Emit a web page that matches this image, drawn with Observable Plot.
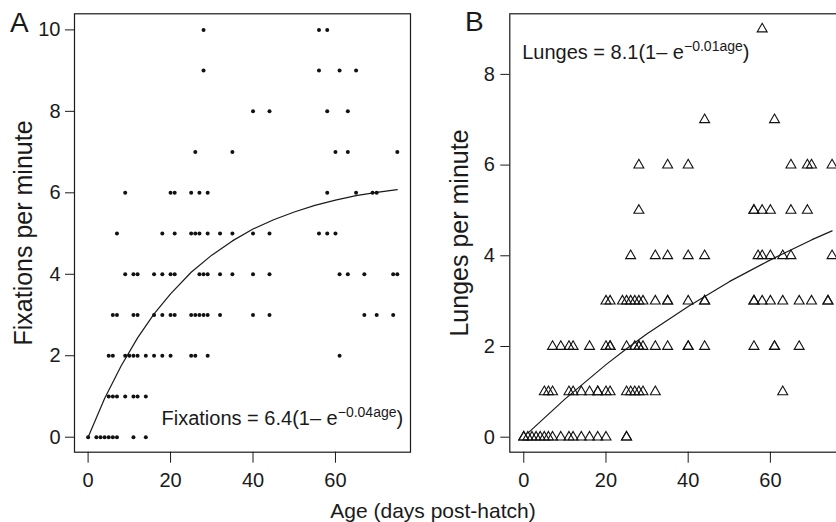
<!DOCTYPE html>
<html>
<head>
<meta charset="utf-8">
<script src="https://cdn.jsdelivr.net/npm/d3@7"></script>
<script src="https://cdn.jsdelivr.net/npm/@observablehq/plot@0.6"></script>
<style>
html,body{margin:0;padding:0;background:#fff;overflow:hidden;width:836px;height:522px;}
#wrap{position:relative;width:836px;height:522px;font-family:"Liberation Sans",Arial,Helvetica,sans-serif;color:#1a1a1a;}
#panelA{position:absolute;left:0;top:0;width:420px;height:522px;}
#panelB{position:absolute;left:420px;top:0;width:430px;height:522px;}
#xtitle{position:absolute;left:0;top:500px;width:866px;text-align:center;font-size:21px;line-height:21px;}
</style>
</head>
<body>
<div id="wrap"><div id="panelA"></div><div id="panelB"></div><div id="xtitle"></div></div>
<script>
// ---------- data ----------
const xTicks = [0, 20, 40, 60];
const yTicksA = [0, 2, 4, 6, 8, 10];
const yTicksB = [0, 2, 4, 6, 8];

// Panel A: fixations per minute (level) and the ages (days) of the dots on that level
const fixLevels = [0, 1, 2, 3, 4, 5, 6, 7, 8, 9, 10];
const fixAgesAt = [
  [0, 2, 3, 4, 5, 6, 7, 11, 14],
  [5, 6, 7, 9, 11, 12, 14],
  [5, 6, 9, 10, 11, 12, 14, 16, 18, 20, 25, 26, 29, 61],
  [6, 7, 11, 12, 16, 18, 20, 21, 25, 26, 27, 28, 29, 32, 40, 44, 67, 70, 74],
  [9, 11, 12, 16, 18, 20, 21, 27, 28, 29, 32, 35, 40, 44, 61, 63, 67, 74, 75],
  [7, 18, 21, 25, 26, 27, 29, 32, 35, 40, 44, 56, 58, 60],
  [9, 20, 21, 25, 27, 29, 58, 65, 69, 70],
  [26, 35, 60, 63, 75],
  [40, 44, 58, 63],
  [28, 56, 61, 65],
  [28, 56, 58]
];

// Panel B: lunges per minute (level) and the ages of the triangles on that level
const lungeLevels = [0, 1, 2, 3, 4, 5, 6, 7, 9];
const lungeAgesAt = [
  [0, 0, 1, 2, 3, 4, 5, 6, 7, 9, 11, 12, 14, 16, 18, 20, 25, 25],
  [5, 6, 7, 11, 12, 14, 16, 18, 18, 20, 21, 25, 26, 27, 28, 29, 32, 63],
  [7, 9, 11, 12, 16, 20, 21, 21, 25, 27, 28, 28, 29, 32, 35, 40, 40, 44, 56, 61, 61, 67],
  [20, 21, 24, 25, 26, 27, 28, 29, 32, 35, 35, 40, 44, 44, 56, 56, 58, 60, 63, 67, 70, 74, 74],
  [26, 32, 35, 40, 44, 57, 58, 60, 63, 65, 75],
  [28, 56, 56, 58, 60, 65, 69],
  [28, 35, 40, 65, 69, 70, 75],
  [44, 61],
  [58]
];

// Fitted curves
const fitAgeA = [0, 4, 8, 12, 16, 20, 25, 30, 35, 40, 45, 50, 55, 60, 65, 70, 75];
const fitFixA = [0, 0.95, 1.75, 2.44, 3.03, 3.52, 4.05, 4.47, 4.82, 5.11, 5.34, 5.53, 5.69, 5.82, 5.93, 6.01, 6.08];
const fitAgeB = [1, 10, 20, 25, 30, 40, 50, 60, 70, 75];
const fitLungeB = [0.09, 0.84, 1.6, 1.95, 2.28, 2.88, 3.43, 3.91, 4.35, 4.55];

// Texts
const panelLetters = ["A", "B"];
const yTitles = ["Fixations per minute", "Lunges per minute"];
const xTitle = "Age (days post-hatch)";
const eqA = ["Fixations = 6.4(1\u2013 e", "\u22120.04age", ")"];
const eqB = ["Lunges = 8.1(1\u2013 e", "\u22120.01age", ")"];

// ---------- build ----------
const FONT = '"Liberation Sans", Arial, Helvetica, sans-serif';
const INK = "#1a1a1a";
const fixData = fixLevels.flatMap((v, i) => fixAgesAt[i].map(a => ({age: a, rate: v})));
const lungeData = lungeLevels.flatMap((v, i) => lungeAgesAt[i].map(a => ({age: a, rate: v})));
const curveA = fitAgeA.map((a, i) => ({age: a, v: fitFixA[i]}));
const curveB = fitAgeB.map((a, i) => ({age: a, v: fitLungeB[i]}));

const baseStyle = {fontFamily: FONT, fontSize: "20px", color: INK, background: "transparent", overflow: "visible", maxWidth: "none"};

function superscriptify(svg, parts) {
  const full = parts.join("");
  d3.select(svg).selectAll("text").filter(function () { return this.textContent === full; }).each(function () {
    const t = d3.select(this);
    t.text(null);
    t.append("tspan").text(parts[0]);
    t.append("tspan").attr("dy", -7.5).attr("font-size", 14).text(parts[1]);
    t.append("tspan").attr("dy", 7.5).text(parts[2]);
  });
}

const A = Plot.plot({
  width: 420, height: 522,
  marginLeft: 74, marginRight: 10, marginTop: 13.3, marginBottom: 70.3,
  style: baseStyle,
  x: {domain: [-3.3, 78.2]},
  y: {domain: [-0.368, 10.395]},
  marks: [
    Plot.frame({stroke: INK, strokeWidth: 1.2}),
    Plot.axisX({ticks: xTicks, tickSize: 11, tickPadding: 10, label: null, fontSize: 20}),
    Plot.axisY({ticks: yTicksA, tickSize: 9, tickPadding: 5, label: null, fontSize: 20}),
    Plot.line(curveA, {x: "age", y: "v", stroke: INK, strokeWidth: 1.2}),
    Plot.dot(fixData, {x: "age", y: "rate", r: 2, fill: "#111"}),
    Plot.text([yTitles[0]], {frameAnchor: "left", rotate: -90, dx: -42.5, textAnchor: "middle", lineAnchor: "bottom", fontSize: 25, fill: INK}),
    Plot.text([panelLetters[0]], {frameAnchor: "top-left", dx: -64.5, dy: 17.7, textAnchor: "start", lineAnchor: "bottom", fontSize: 28, fill: INK}),
    Plot.text([eqA.join("")], {frameAnchor: "bottom-left", dx: 87, dy: -27.7, textAnchor: "start", lineAnchor: "bottom", fontSize: 20, fill: INK})
  ]
});
superscriptify(A, eqA);

const B = Plot.plot({
  width: 430, height: 522,
  marginLeft: 89.3, marginRight: 5.3, marginTop: 13.3, marginBottom: 70.3,
  style: baseStyle,
  x: {domain: [-3.4, 78.2]},
  y: {domain: [-0.331, 9.336]},
  marks: [
    Plot.frame({stroke: INK, strokeWidth: 1.2}),
    Plot.axisX({ticks: xTicks, tickSize: 11, tickPadding: 10, label: null, fontSize: 20}),
    Plot.axisY({ticks: yTicksB, tickSize: 9, tickPadding: 6, label: null, fontSize: 20}),
    Plot.line(curveB, {x: "age", y: "v", stroke: INK, strokeWidth: 1.2}),
    Plot.dot(lungeData, {x: "age", y: "rate", symbol: "triangle", r: 3.7, stroke: "#111", strokeWidth: 1.1, fill: "none"}),
    Plot.text([yTitles[1]], {frameAnchor: "left", rotate: -90, dx: -42, textAnchor: "middle", lineAnchor: "bottom", fontSize: 25, fill: INK}),
    Plot.text([panelLetters[1]], {frameAnchor: "top-left", dx: -44.8, dy: 17.4, textAnchor: "start", lineAnchor: "bottom", fontSize: 28, fill: INK}),
    Plot.text([eqB.join("")], {frameAnchor: "top-left", dx: 12.4, dy: 45, textAnchor: "start", lineAnchor: "bottom", fontSize: 20, fill: INK})
  ]
});
superscriptify(B, eqB);

document.getElementById("panelA").appendChild(A);
document.getElementById("panelB").appendChild(B);
document.getElementById("xtitle").textContent = xTitle;
</script>
</body>
</html>
